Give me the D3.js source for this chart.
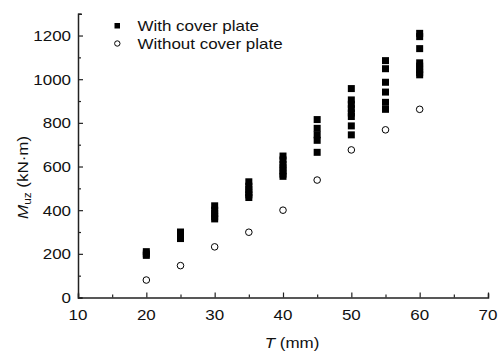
<!DOCTYPE html>
<html>
<head>
<meta charset="utf-8">
<script src="https://cdn.jsdelivr.net/npm/d3@7"></script>
<style>
  body { margin: 0; background: #fff; }
  text { font-family: "Liberation Sans", Arial, sans-serif; }
</style>
</head>
<body>
<svg id="chart" width="499" height="356"></svg>
<script>
// thickness T (mm) and the moment values
const thickness = [20, 25, 30, 35, 40, 45, 50, 55, 60];

// with cover plate: several runs per thickness
const withPlate = [
  [210, 200, 193],
  [300, 285, 270],
  [420, 400, 385, 370, 360],
  [530, 510, 495, 480, 470, 458],
  [648, 630, 610, 595, 580, 565, 555],
  [815, 775, 745, 720, 665],
  [957, 905, 885, 865, 845, 829, 786, 745],
  [1085, 1048, 986, 941, 894, 862],
  [1210, 1195, 1140, 1075, 1060, 1045, 1030, 1020]
];

// without cover plate: one value per thickness
const withoutPlate = [80, 146, 232, 299, 400, 538, 676, 768, 862];

const xTicks = [10, 20, 30, 40, 50, 60, 70];
const yTicks = [0, 200, 400, 600, 800, 1000, 1200];

const svg = d3.select('#chart');

const x = d3.scaleLinear().domain([10, 70]).range([78, 488]);
const y = d3.scaleLinear().domain([0, 1300]).range([297.5, 13.7]);

// the reference font runs wider than Liberation Sans, stretch it along the text
const stretch = 1.17;
const fs = 14.5;

// text at (tx, ty), optionally rotated
const label = (g, tx, ty, anchor, rot = 0) =>
  g.append('text')
    .attr('transform', `translate(${tx},${ty}) rotate(${rot}) scale(${stretch},1)`)
    .attr('text-anchor', anchor).attr('font-size', fs).attr('fill', '#111');

// axes, ticks pointing inward
const xAxis = svg.append('g').attr('transform', `translate(0,${y(0)})`);
xAxis.call(d3.axisTop(x).tickValues(d3.range(10, 71, 5)).tickSize(4).tickFormat(''));
xAxis.selectAll('.tick line').attr('y2', d => (d % 10 === 0 ? -5 : -3));

const yAxis = svg.append('g').attr('transform', `translate(${x(10)},0)`);
yAxis.call(d3.axisRight(y).tickValues(d3.range(0, 1301, 100)).tickSize(4).tickFormat(''));
yAxis.selectAll('.tick line').attr('x2', d => (d % 200 === 0 ? 5 : 3));

svg.selectAll('.domain').attr('stroke', '#222').attr('stroke-width', 1.5);
svg.selectAll('.tick line').attr('stroke', '#222').attr('stroke-width', 1.2);

// tick labels
const xl = svg.append('g');
xTicks.forEach(d => label(xl, x(d), y(0) + 22, 'middle').text(d));

const yl = svg.append('g');
yTicks.forEach(d => label(yl, x(10) - 7, y(d) + 5.5, 'end').text(d));

// axis titles
const xt = label(svg, 292, 348, 'middle');
xt.append('tspan').attr('font-style', 'italic').text('T');
xt.append('tspan').text(' (mm)');

const yt = label(svg, 28, y(550), 'middle', -90);
yt.append('tspan').attr('font-style', 'italic').text('M');
yt.append('tspan').attr('font-size', 10).attr('dy', 3).text('uz');
yt.append('tspan').attr('dy', -3).text(' (kN·m)');

// squares: with cover plate
const sq = 7;
const pts = thickness.flatMap((t, i) => withPlate[i].map(v => ({ t, v })));
svg.append('g').selectAll('rect').data(pts).join('rect')
  .attr('x', d => x(d.t) - sq / 2).attr('y', d => y(d.v) - sq / 2)
  .attr('width', sq).attr('height', sq).attr('fill', '#000');

// circles: without cover plate
svg.append('g').selectAll('circle').data(withoutPlate).join('circle')
  .attr('cx', (d, i) => x(thickness[i])).attr('cy', d => y(d))
  .attr('r', 3.3).attr('fill', '#fff').attr('stroke', '#000').attr('stroke-width', 1);

// legend
const lg = svg.append('g');
lg.append('rect').attr('x', 114.5).attr('y', 23).attr('width', 5.5).attr('height', 5.5).attr('fill', '#000');
label(lg, 137.5, 31, 'start').text('With cover plate');
lg.append('circle').attr('cx', 117.3).attr('cy', 43.5).attr('r', 2.7).attr('fill', '#fff').attr('stroke', '#000');
label(lg, 137.5, 48.5, 'start').text('Without cover plate');
</script>
</body>
</html>
